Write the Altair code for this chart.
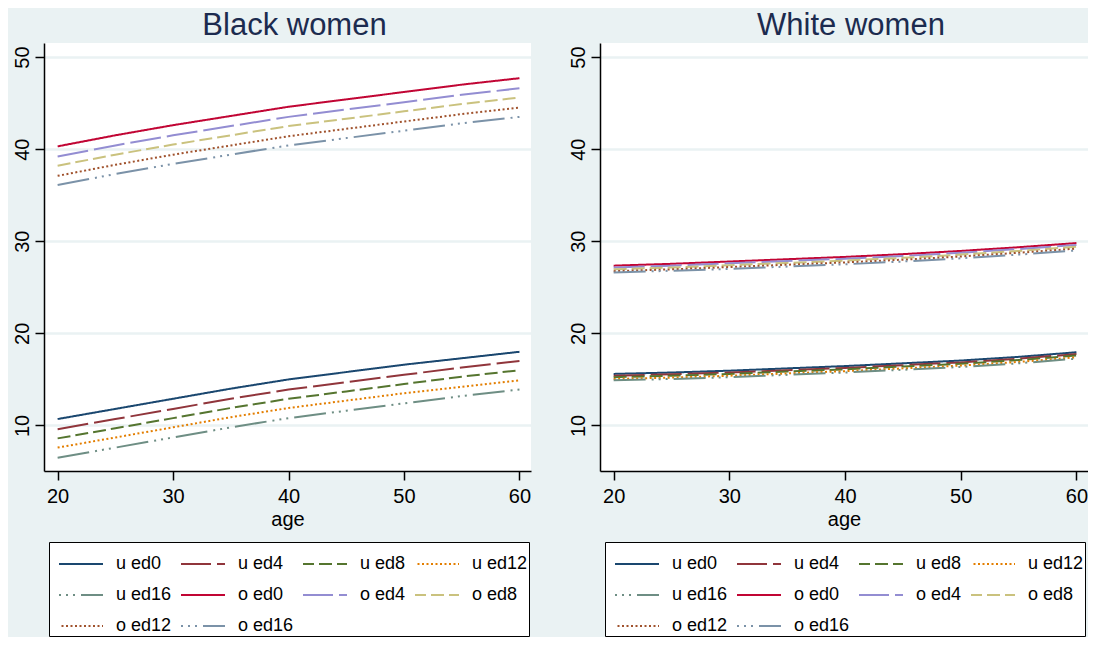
import altair as alt
import pandas as pd

ages = [20, 25, 30, 35, 40, 45, 50, 55, 60]
series_names = ["u ed0", "u ed4", "u ed8", "u ed12", "u ed16",
                "o ed0", "o ed4", "o ed8", "o ed12", "o ed16"]

# Black women
black_u_ed0 = [10.7, 11.8, 12.9, 14.0, 15.0, 15.8, 16.6, 17.3, 18.0]
black_u_ed4 = [9.6, 10.7, 11.8, 12.9, 13.9, 14.7, 15.5, 16.3, 17.0]
black_u_ed8 = [8.6, 9.7, 10.8, 11.9, 12.9, 13.7, 14.5, 15.3, 16.0]
black_u_ed12 = [7.6, 8.7, 9.8, 10.9, 11.9, 12.7, 13.5, 14.2, 14.9]
black_u_ed16 = [6.5, 7.6, 8.7, 9.8, 10.8, 11.6, 12.4, 13.2, 13.9]
black_o_ed0 = [40.3, 41.5, 42.6, 43.6, 44.6, 45.4, 46.2, 47.0, 47.7]
black_o_ed4 = [39.2, 40.4, 41.5, 42.5, 43.5, 44.3, 45.1, 45.9, 46.6]
black_o_ed8 = [38.2, 39.4, 40.5, 41.5, 42.5, 43.3, 44.1, 44.9, 45.6]
black_o_ed12 = [37.1, 38.3, 39.4, 40.4, 41.4, 42.2, 43.0, 43.8, 44.5]
black_o_ed16 = [36.1, 37.3, 38.4, 39.4, 40.4, 41.2, 42.0, 42.8, 43.5]

# White women
white_u_ed0 = [15.6, 15.75, 15.95, 16.2, 16.45, 16.75, 17.05, 17.45, 17.95]
white_u_ed4 = [15.4, 15.55, 15.75, 16.0, 16.25, 16.55, 16.85, 17.25, 17.75]
white_u_ed8 = [15.25, 15.4, 15.6, 15.85, 16.1, 16.4, 16.7, 17.1, 17.6]
white_u_ed12 = [15.05, 15.2, 15.4, 15.65, 15.9, 16.2, 16.5, 16.9, 17.4]
white_u_ed16 = [14.9, 15.05, 15.25, 15.5, 15.75, 16.05, 16.35, 16.75, 17.25]
white_o_ed0 = [27.35, 27.55, 27.8, 28.05, 28.3, 28.6, 28.95, 29.35, 29.8]
white_o_ed4 = [27.15, 27.35, 27.6, 27.85, 28.1, 28.4, 28.75, 29.15, 29.6]
white_o_ed8 = [26.95, 27.15, 27.4, 27.65, 27.9, 28.2, 28.55, 28.95, 29.4]
white_o_ed12 = [26.75, 26.95, 27.2, 27.45, 27.7, 28.0, 28.35, 28.75, 29.2]
white_o_ed16 = [26.6, 26.8, 27.0, 27.25, 27.5, 27.8, 28.15, 28.55, 29.0]

black_series = [black_u_ed0, black_u_ed4, black_u_ed8, black_u_ed12, black_u_ed16,
                black_o_ed0, black_o_ed4, black_o_ed8, black_o_ed12, black_o_ed16]
white_series = [white_u_ed0, white_u_ed4, white_u_ed8, white_u_ed12, white_u_ed16,
                white_o_ed0, white_o_ed4, white_o_ed8, white_o_ed12, white_o_ed16]

colors = ["#1A476F", "#90353B", "#55752F", "#E37E00", "#6E8E84",
          "#C10534", "#938DD2", "#CAC27E", "#A0522D", "#7B92A8"]
dashes = [[1, 0], [31, 6], [13, 5], [2, 2.5], [32, 6, 2, 5, 2, 5, 2, 6],
          [1, 0], [31, 6], [13, 5], [2, 2.5], [32, 6, 2, 5, 2, 5, 2, 6]]


def make_df(series_list):
    rows = []
    for name, vals in zip(series_names, series_list):
        for a, v in zip(ages, vals):
            rows.append({"series": name, "age": a, "value": v})
    return pd.DataFrame(rows)


FONT = "Liberation Sans"
BG = "#EAF2F3"


def panel(df, title, width):
    legend = alt.Legend(
        title=None, orient="none", legendX=5, legendY=499, columns=4,
        direction="horizontal",
        symbolType="M-0.6,0L1.6,0", symbolSize=1600, symbolStrokeWidth=2,
        symbolDashOffset=38,
        labelFontSize=18, labelFont=FONT, labelColor="black", labelLimit=300,
        labelOffset=24, columnPadding=0, rowPadding=1, padding=1,
        strokeColor="black", fillColor="white", gridAlign="each",
    )
    return alt.Chart(df).mark_line(strokeWidth=2, clip=True).encode(
        x=alt.X("age:Q",
                scale=alt.Scale(domain=[18.82, 61.0], nice=False, zero=False),
                axis=alt.Axis(values=[20, 30, 40, 50, 60], title="age", grid=False,
                              domainColor="black", domainWidth=1.5, tickColor="black",
                              tickSize=9, tickWidth=1.5, labelFontSize=20, labelFont=FONT,
                              labelColor="black", labelPadding=6, titleFontSize=20,
                              titleFont=FONT, titleFontWeight="normal", titleColor="black",
                              titlePadding=3)),
        y=alt.Y("value:Q",
                scale=alt.Scale(domain=[5.06, 51.52], nice=False, zero=False),
                axis=alt.Axis(values=[10, 20, 30, 40, 50], title=None, grid=True,
                              gridColor=BG, gridWidth=2.5, domainColor="black",
                              domainWidth=1.5, tickColor="black", tickSize=9, tickWidth=1.5,
                              labelFontSize=20, labelFont=FONT, labelColor="black",
                              labelAngle=-90, labelAlign="center", labelBaseline="bottom",
                              labelPadding=3)),
        color=alt.Color("series:N", sort=series_names,
                        scale=alt.Scale(domain=series_names, range=colors), legend=legend),
        strokeDash=alt.StrokeDash("series:N", sort=series_names,
                                  scale=alt.Scale(domain=series_names, range=dashes),
                                  legend=legend),
    ).properties(
        width=width, height=428,
        title=alt.TitleParams(title, fontSize=31, font=FONT, fontWeight="normal",
                              color="#1C2B4F", offset=1, dx=7),
    )


left = panel(make_df(black_series), "Black women", 487)
right = panel(make_df(white_series), "White women", 488)

chart = alt.hconcat(left, right, spacing=37).resolve_scale(
    color="independent", strokeDash="independent"
).properties(
    background=BG, padding={"left": 4, "top": 2, "right": 0, "bottom": 0}
).configure_view(stroke=None, fill="white")

chart.save("out.html", embed_options={"renderer": "svg", "actions": False})
